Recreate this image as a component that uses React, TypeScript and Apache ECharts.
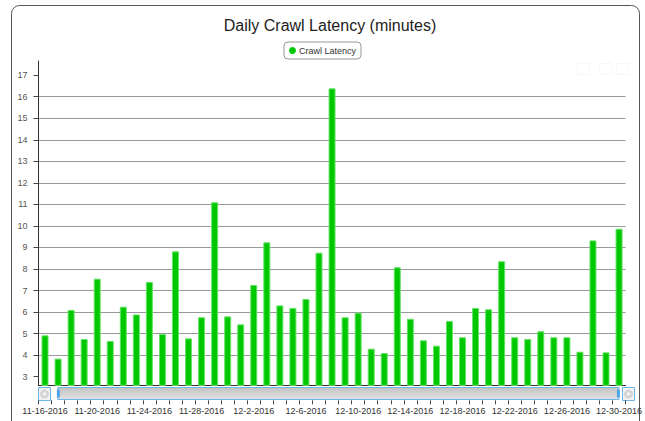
import React, { useEffect, useRef } from "react";
import * as echarts from "echarts";

const dates = [
  "11-16-2016", "11-17-2016", "11-18-2016", "11-19-2016", "11-20-2016", "11-21-2016", "11-22-2016", "11-23-2016",
  "11-24-2016", "11-25-2016", "11-26-2016", "11-27-2016", "11-28-2016", "11-29-2016", "11-30-2016",
  "12-1-2016", "12-2-2016", "12-3-2016", "12-4-2016", "12-5-2016", "12-6-2016", "12-7-2016", "12-8-2016",
  "12-9-2016", "12-10-2016", "12-11-2016", "12-12-2016", "12-13-2016", "12-14-2016", "12-15-2016",
  "12-16-2016", "12-17-2016", "12-18-2016", "12-19-2016", "12-20-2016", "12-21-2016", "12-22-2016",
  "12-23-2016", "12-24-2016", "12-25-2016", "12-26-2016", "12-27-2016", "12-28-2016", "12-29-2016", "12-30-2016",
];

const crawlLatency = [
  4.92, 3.84, 6.1, 4.75, 7.55, 4.66, 6.25, 5.89, 7.4, 4.98,
  8.82, 4.78, 5.76, 11.1, 5.8, 5.43, 7.26, 9.24, 6.31, 6.19,
  6.61, 8.76, 16.39, 5.76, 5.97, 4.3, 4.1, 8.08, 5.69, 4.69,
  4.44, 5.59, 4.83, 6.19, 6.13, 8.36, 4.83, 4.75, 5.11, 4.83,
  4.83, 4.16, 9.33, 4.13, 9.87,
];

const yTicks = [3, 4, 5, 6, 7, 8, 9, 10, 11, 12, 13, 14, 15, 16, 17];

const FONT = "'Liberation Sans', Arial, sans-serif";

export default function App() {
  const ref = useRef<HTMLDivElement>(null);
  useEffect(() => {
    if (!ref.current) return;
    const chart = echarts.init(ref.current, null, { renderer: "svg" });
    const option: any = {
      animation: false,
      backgroundColor: "#fff",
      textStyle: { fontFamily: FONT },
      title: {
        text: "Daily Crawl Latency (minutes)",
        left: 325,
        textAlign: "center",
        top: 12,
        textStyle: { fontFamily: FONT, fontSize: 16, fontWeight: "normal", color: "#222" },
      },
      legend: {
        top: 42,
        left: "center",
        data: ["Crawl Latency"],
        icon: "circle",
        itemWidth: 7,
        itemHeight: 7,
        itemGap: 4,
        padding: [4, 5, 4, 5],
        borderColor: "#999",
        borderWidth: 1,
        borderRadius: 4,
        itemStyle: { borderWidth: 0, color: "#00c800" },
        textStyle: { fontFamily: FONT, fontSize: 9, color: "#333", padding: [0, 0, 0, -2] },
      },
      grid: { left: 38.5, right: 11, top: 61, bottom: 35.7, containLabel: false },
      xAxis: [
        {
          type: "category",
          data: dates,
          position: "bottom",
          axisLine: { show: true, lineStyle: { color: "#333", width: 1 } },
          axisTick: { show: false },
          axisLabel: { show: false },
        },
        {
          type: "category",
          data: dates,
          position: "bottom",
          offset: 15,
          axisLine: { show: false },
          axisTick: { show: true, interval: 0, length: 4, lineStyle: { color: "#444" } },
          axisLabel: {
            show: true,
            interval: 3,
            margin: 6,
            fontSize: 9,
            color: "#333",
            fontFamily: FONT,
          },
        },
      ],
      yAxis: {
        type: "value",
        min: 2.6,
        max: 17.66,
        axisLine: { show: true, lineStyle: { color: "#333", width: 1 } },
        axisTick: { show: true, length: 5, customValues: yTicks, lineStyle: { color: "#444" } },
        axisLabel: { customValues: yTicks, fontSize: 9, color: "#555", margin: 11, fontFamily: FONT },
        splitLine: { show: true, showMinLine: false, showMaxLine: false, lineStyle: { color: "#999", width: 1 } },
      },
      dataZoom: [
        {
          type: "slider",
          xAxisIndex: [0, 1],
          start: 0,
          end: 100,
          left: 57,
          right: 26,
          top: 387,
          height: 13,
          showDetail: false,
          showDataShadow: false,
          brushSelect: false,
          moveHandleSize: 0,
          backgroundColor: "#fff",
          borderColor: "#6cb6ea",
          borderRadius: 0,
          fillerColor: {
            type: "linear",
            x: 0,
            y: 0,
            x2: 0,
            y2: 1,
            colorStops: [
              { offset: 0, color: "#e2e2e2" },
              { offset: 1, color: "#c2c2c2" },
            ],
          },
          handleIcon: "path://M0,0H3V8H0Z",
          handleSize: "60%",
          handleStyle: { color: "#4da3e6", borderColor: "#4da3e6", borderWidth: 0 },
          dataBackground: { lineStyle: { opacity: 0 }, areaStyle: { opacity: 0 } },
          selectedDataBackground: { lineStyle: { opacity: 0 }, areaStyle: { opacity: 0 } },
        },
      ],
      graphic: [
        {
          type: "rect",
          z: -10,
          shape: { x: 11.5, y: 5.5, width: 628, height: 440, r: 8 },
          style: { fill: "none", stroke: "#555", lineWidth: 1 },
        },
        {
          type: "group",
          children: [
            { type: "rect", shape: { x: 38.5, y: 387.5, width: 12, height: 13 }, style: { fill: "#f2f2f2", stroke: "#6cb6ea", lineWidth: 1 } },
            { type: "circle", shape: { cx: 44.5, cy: 394, r: 4 }, style: { fill: "#d8d8d8", stroke: "#bbb", lineWidth: 0.5 } },
            { type: "polygon", shape: { points: [[42.5, 394], [45.5, 392], [45.5, 396]] }, style: { fill: "#fff" } },
            { type: "rect", shape: { x: 622.5, y: 387.5, width: 12, height: 13 }, style: { fill: "#f2f2f2", stroke: "#6cb6ea", lineWidth: 1 } },
            { type: "circle", shape: { cx: 628.5, cy: 394, r: 4 }, style: { fill: "#d8d8d8", stroke: "#bbb", lineWidth: 0.5 } },
            { type: "polygon", shape: { points: [[630.5, 394], [627.5, 392], [627.5, 396]] }, style: { fill: "#fff" } },
          ],
        },
        {
          type: "group",
          children: [
            { type: "rect", shape: { x: 577.5, y: 63.5, width: 12, height: 11 }, style: { fill: "none", stroke: "#f7f7f7", lineWidth: 1 } },
            { type: "rect", shape: { x: 599.5, y: 63.5, width: 12, height: 11 }, style: { fill: "none", stroke: "#f7f7f7", lineWidth: 1 } },
            { type: "rect", shape: { x: 616.5, y: 63.5, width: 12, height: 11 }, style: { fill: "none", stroke: "#f7f7f7", lineWidth: 1 } },
          ],
        },
      ],
      series: [
        {
          name: "Crawl Latency",
          type: "bar",
          xAxisIndex: 0,
          data: crawlLatency,
          barWidth: 7,
          itemStyle: { color: "#00c800", borderColor: "#66e266", borderWidth: 1 },
        },
      ],
    };
    chart.setOption(option);
    return () => chart.dispose();
  }, []);
  return (
    <div
      ref={ref}
      style={{ position: "fixed", left: 0, top: 0, width: 645, height: 421, background: "#fff" }}
    />
  );
}
